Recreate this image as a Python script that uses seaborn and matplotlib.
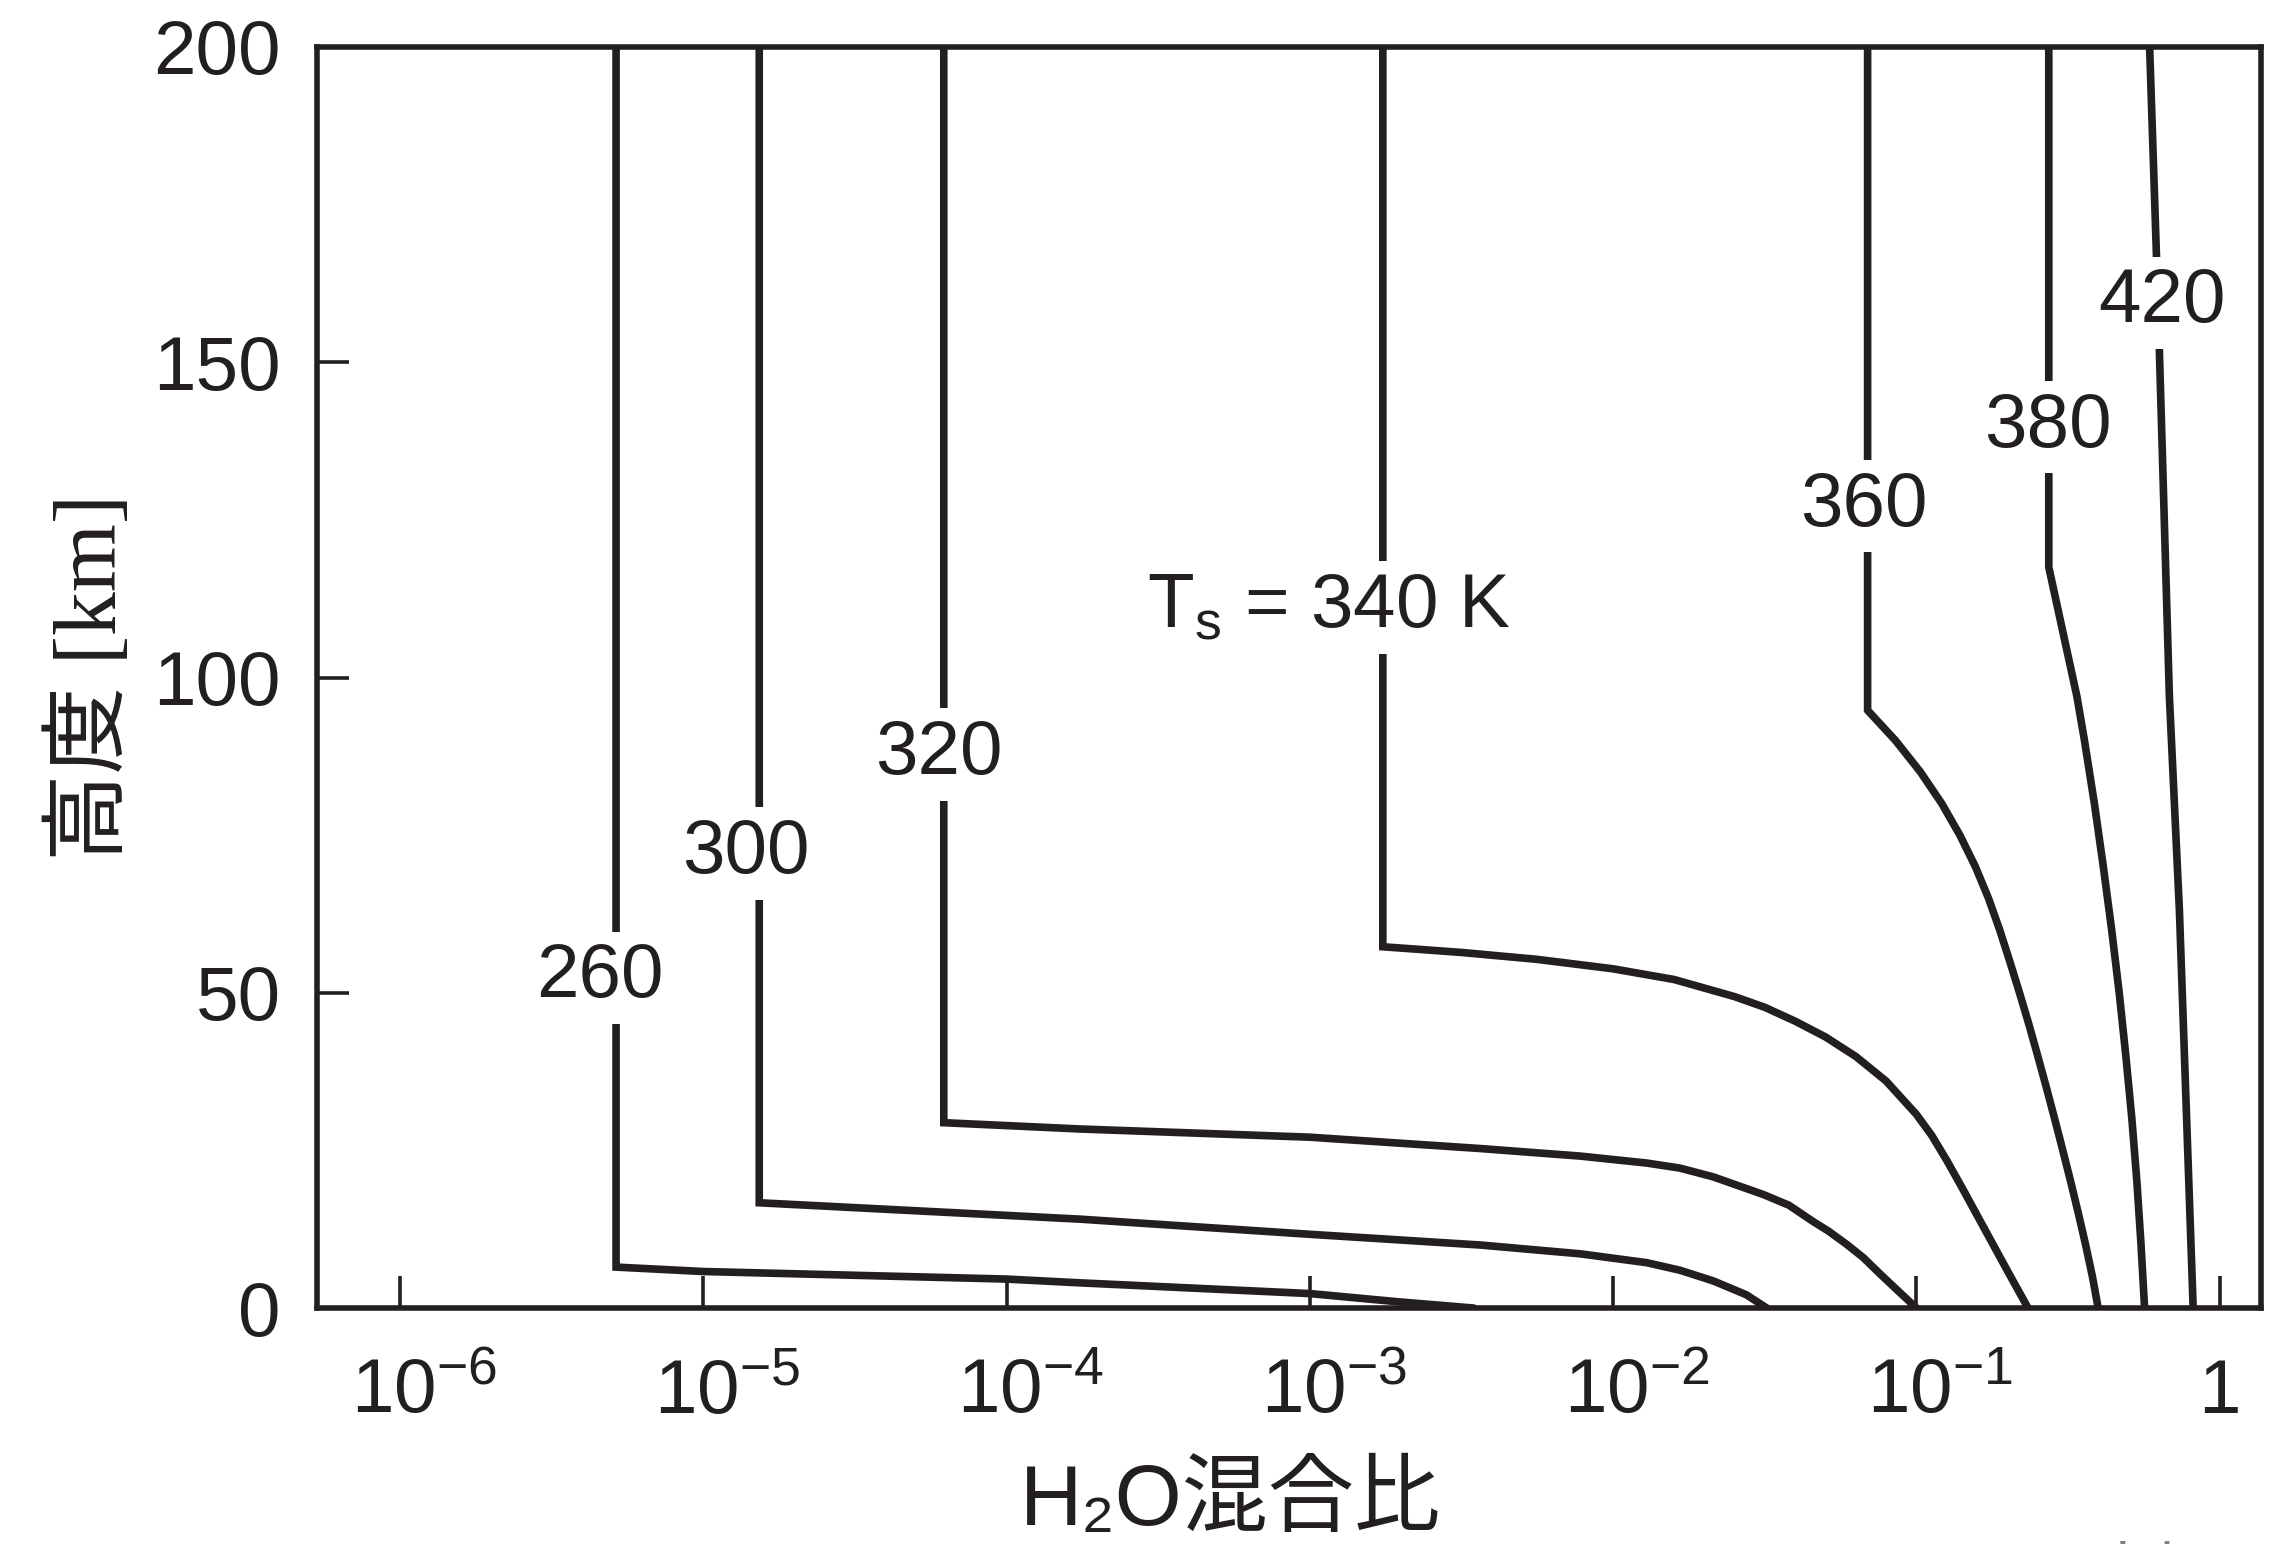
import numpy as np
import pandas as pd
import matplotlib
matplotlib.use('Agg')
import matplotlib.pyplot as plt
import seaborn as sns
from matplotlib.transforms import ScaledTranslation

# H2O mixing ratio profiles for several surface temperatures (altitude in km)
alt_260 = [200, 6.5, 5.8, 4.6, 4.0, 2.3, 1.0, 0]
h2o_260 = [5.16e-6, 5.16e-6, 1.0e-5, 1.0e-4, 1.75e-4, 1.0e-3, 1.95e-3, 3.47e-3]

alt_300 = [200, 16.7, 14.1, 11.7, 10.0, 8.6, 7.2, 6.0, 4.3, 2.1, 0]
h2o_300 = [1.53e-5, 1.53e-5, 1.75e-4, 1.0e-3, 3.65e-3, 7.8e-3, 0.0129, 0.0166, 0.0214, 0.0275, 0.0321]

alt_320 = [200, 29.4, 28.4, 27.1, 25.3, 24.1, 23.0, 22.2, 20.8, 18.0, 16.3, 13.7,
           12.2, 10.1, 8.0, 5.4, 2.7, 0]
h2o_320 = [6.21e-5, 6.21e-5, 1.75e-4, 1.0e-3, 3.65e-3, 7.8e-3, 0.0129, 0.0166, 0.0214,
           0.0313, 0.0380, 0.0457, 0.0513, 0.0589, 0.0668, 0.0759, 0.0871, 0.1]

alt_340 = [200, 57.3, 56.4, 55.3, 53.8, 52.1, 49.4, 47.7, 45.5, 43.0, 39.9, 36.0,
           30.7, 27.4, 23.4, 19.1, 14.7, 5.9, 0]
h2o_340 = [1.74e-3, 1.74e-3, 3.16e-3, 5.62e-3, 0.0100, 0.0159, 0.0251, 0.0316, 0.0398,
           0.0501, 0.0631, 0.0794, 0.1000, 0.1122, 0.1259, 0.1413, 0.1585, 0.1995, 0.2333]

alt_360 = [200, 94.8, 90, 85, 80, 75, 70, 65, 60, 55, 50, 45, 40, 35, 30, 25, 20,
           15, 10, 5, 0]
h2o_360 = [0.0690, 0.0690, 0.0853, 0.1031, 0.1212, 0.1390, 0.1564, 0.1727, 0.1880,
           0.2030, 0.2186, 0.2347, 0.2510, 0.2680, 0.2855, 0.3037, 0.3226, 0.3418,
           0.3612, 0.3802, 0.3972]

alt_380 = [200, 117.5, 97, 90, 80, 70, 60, 50, 40, 30, 20, 10, 0]
h2o_380 = [0.273, 0.273, 0.338, 0.358, 0.386, 0.413, 0.440, 0.466, 0.490, 0.513,
           0.533, 0.550, 0.565]

alt_420 = [200, 160, 97, 63, 0]
h2o_420 = [0.587, 0.625, 0.682, 0.736, 0.817]

surface_temps = [260, 300, 320, 340, 360, 380, 420]
alts = [alt_260, alt_300, alt_320, alt_340, alt_360, alt_380, alt_420]
h2os = [h2o_260, h2o_300, h2o_320, h2o_340, h2o_360, h2o_380, h2o_420]

curve_labels = ['260', '300', '320', r'$\mathregular{T_s}$ = 340 K', '360', '380', '420']
label_h2o = [4.56e-6, 1.38e-5, 6.0e-5, 1.156e-3, 0.0671, 0.271, 0.643]
label_alt = [49.3, 69.0, 84.7, 108.0, 124.1, 136.6, 156.3]

xtick_vals = [1e-6, 1e-5, 1e-4, 1e-3, 1e-2, 1e-1, 1]
xtick_labels = [r'$10^{-6}$', r'$10^{-5}$', r'$10^{-4}$', r'$10^{-3}$',
                r'$10^{-2}$', r'$10^{-1}$', '1']
ytick_vals = [0, 50, 100, 150, 200]

rows = []
for ts, a_list, h_list in zip(surface_temps, alts, h2os):
    for a, h in zip(a_list, h_list):
        rows.append({'Ts': ts, 'alt': a, 'h2o': h})
df = pd.DataFrame(rows)

ink = '#231f20'
sns.set_theme(style='white')
plt.rcParams['font.family'] = ['Liberation Sans', 'DejaVu Sans', 'Noto Sans CJK JP']
plt.rcParams['mathtext.fontset'] = 'custom'
plt.rcParams['mathtext.rm'] = 'Liberation Sans'
plt.rcParams['mathtext.it'] = 'Liberation Sans:italic'
plt.rcParams['mathtext.default'] = 'regular'

fig = plt.figure(figsize=(22.89, 15.44), dpi=100)
ax = fig.add_axes([0.1385, 0.1528, 0.8493, 0.8168])
ax.set_xscale('log')

sns.lineplot(data=df, x='h2o', y='alt', units='Ts', estimator=None, sort=False,
             color=ink, linewidth=5.5, solid_joinstyle='miter', ax=ax)

for txt, hx, ha in zip(curve_labels, label_h2o, label_alt):
    ax.text(hx, ha, txt, ha='center', va='baseline', fontsize=55, color=ink,
            bbox=dict(boxstyle='square,pad=0.14', fc='white', ec='none'), zorder=5)

ax.set_xlim(5.33e-7, 1.368)
ax.set_ylim(0, 200)
ax.set_xticks(xtick_vals)
ax.set_xticklabels(xtick_labels)
ax.set_yticks(ytick_vals)
ax.minorticks_off()

for side in ['left', 'right', 'top', 'bottom']:
    ax.spines[side].set_visible(True)
    ax.spines[side].set_color(ink)
    ax.spines[side].set_linewidth(4)

ax.tick_params(axis='both', direction='in', length=23, width=2.6, colors=ink,
               labelsize=55, labelcolor=ink, top=False, right=False,
               bottom=True, left=True)
ax.tick_params(axis='x', pad=36)
ax.tick_params(axis='y', pad=26)

# shift the 10^n labels so that the "10" sits over the tick
for lbl in ax.get_xticklabels()[:-1]:
    lbl.set_transform(lbl.get_transform() + ScaledTranslation(0.24, 0, fig.dpi_scale_trans))

ax.set_xlabel('H₂O混合比', fontsize=62, color=ink)
ax.xaxis.set_label_coords(0.4697, -0.1225)
ax.set_ylabel('高度 [km]', fontsize=63, color=ink,
              family=['Liberation Serif', 'Noto Sans CJK JP'])
ax.yaxis.set_label_coords(-0.0935, 0.5)

fig.text(0.751, 0.002, 'Kasting (1988) より', ha='left', va='top',
         fontsize=40, color='#808080')

fig.savefig('out.png', dpi=100)
